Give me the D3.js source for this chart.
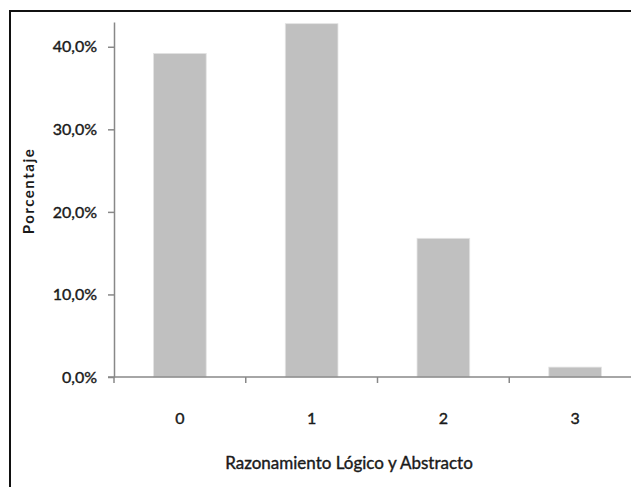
<!DOCTYPE html>
<html>
<head>
<meta charset="utf-8">
<script src="https://cdn.jsdelivr.net/npm/d3@7"></script>
<style>
  body { margin: 0; background: #fff; }
  svg text { font-family: Lato, "Open Sans", sans-serif; fill: #1a1a1a; }
  svg text.heavy { stroke: #1a1a1a; stroke-width: 0.4px; }
</style>
</head>
<body>
<div id="chart"></div>
<script>
// data
const categories = ["0", "1", "2", "3"];
const values = [0.392, 0.428, 0.168, 0.012];
const yTicks = [0, 0.1, 0.2, 0.3, 0.4];

const W = 631, H = 487;
const margin = {top: 22, left: 114};
const plotRight = 641;
const y0 = 377;

const svg = d3.select("#chart").append("svg")
  .attr("width", W).attr("height", H);

// outer frame, runs off the right and bottom edges
svg.append("rect")
  .attr("x", 10).attr("y", 11)
  .attr("width", 660).attr("height", 520)
  .attr("fill", "none").attr("stroke", "#111").attr("stroke-width", 2);

const x = d3.scaleBand()
  .domain(categories)
  .range([margin.left, plotRight])
  .paddingInner(0.6).paddingOuter(0.3);

const y = d3.scaleLinear()
  .domain([0, 0.43])
  .range([y0, margin.top]);

// bars
svg.append("g").selectAll("rect")
  .data(values)
  .join("rect")
    .attr("x", (d, i) => x(categories[i]))
    .attr("y", d => y(d))
    .attr("width", x.bandwidth())
    .attr("height", d => y0 - y(d))
    .attr("fill", "#c0c0c0")
    .attr("stroke", "#e4e4e4")
    .attr("stroke-width", 0.8);

// y axis
const fmt = d => d3.format(".1f")(d * 100).replace(".", ",") + "%";
const yAxis = svg.append("g")
  .attr("transform", `translate(${margin.left},0)`)
  .call(d3.axisLeft(y).tickValues(yTicks).tickFormat(fmt).tickSize(6).tickSizeOuter(0));
yAxis.select(".domain").attr("stroke", "#888").attr("stroke-width", 1.5);
yAxis.selectAll(".tick line").attr("stroke", "#888").attr("stroke-width", 1.5);
yAxis.selectAll(".tick text")
  .attr("class", "heavy")
  .attr("x", -17).attr("font-size", 16).attr("fill", "#1a1a1a")
  .style("font-family", "Lato, sans-serif");

// x axis: ticks at category boundaries
const xAxisG = svg.append("g").attr("transform", `translate(0,${y0})`);
xAxisG.append("line")
  .attr("x1", margin.left - 6).attr("x2", plotRight)
  .attr("stroke", "#888").attr("stroke-width", 1.5);
const bounds = d3.range(categories.length + 1).map(i => margin.left + i * x.step());
xAxisG.selectAll("line.tk")
  .data(bounds)
  .join("line").attr("class", "tk")
    .attr("x1", d => d).attr("x2", d => d)
    .attr("y1", 0).attr("y2", 6)
    .attr("stroke", "#888").attr("stroke-width", 1.5);
xAxisG.selectAll("text")
  .data(categories)
  .join("text")
    .attr("class", "heavy")
    .attr("x", d => x(d) + x.bandwidth() / 2)
    .attr("y", 47)
    .attr("text-anchor", "middle")
    .attr("font-size", 16)
    .text(d => d);

// axis titles
svg.append("text")
  .attr("class", "heavy")
  .attr("x", 349).attr("y", 469)
  .attr("text-anchor", "middle")
  .attr("font-size", 17)
  .text("Razonamiento Lógico y Abstracto");

svg.append("text")
  .attr("transform", "translate(34,191) rotate(-90)")
  .attr("text-anchor", "middle")
  .attr("font-size", 15)
  .attr("font-weight", "bold")
  .attr("letter-spacing", 1.5)
  .text("Porcentaje");
</script>
</body>
</html>
